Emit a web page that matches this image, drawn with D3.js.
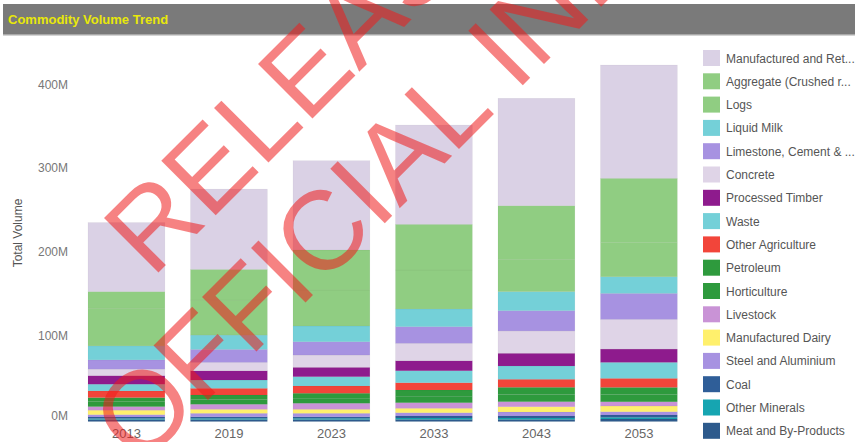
<!DOCTYPE html>
<html>
<head>
<meta charset="utf-8">
<script src="https://cdn.jsdelivr.net/npm/d3@7"></script>
<style>
  html, body { margin: 0; padding: 0; background: #fff; overflow: hidden; }
  svg { display: block; font-family: "Liberation Sans", Arial, sans-serif; }
</style>
</head>
<body>
<svg id="chart" width="855" height="442"></svg>
<script>
// Forecast years shown on the x axis
const years = ["2013", "2019", "2023", "2033", "2043", "2053"];

// Commodity names in legend order (top of stack first)
const commodities = [
  "Manufactured and Ret...",
  "Aggregate (Crushed r...",
  "Logs",
  "Liquid Milk",
  "Limestone, Cement & ...",
  "Concrete",
  "Processed Timber",
  "Waste",
  "Other Agriculture",
  "Petroleum",
  "Horticulture",
  "Livestock",
  "Manufactured Dairy",
  "Steel and Aluminium",
  "Coal",
  "Other Minerals",
  "Meat and By-Products"
];

// Volumes per commodity, millions, one value per year
const manufacturedRetail = [82.5, 96.0, 106.8, 118.7, 128.4, 135.5];
const aggregate          = [19.9, 36.7, 47.8, 54.6, 64.1, 77.0];
const logs               = [45.1, 41.9, 43.1, 46.6, 38.7, 40.7];
const liquidMilk         = [16.7, 17.1, 18.8, 21.2, 22.7, 19.9];
const limestone          = [11.1, 15.5, 15.9, 19.9, 24.3, 31.1];
const concrete           = [7.7, 10.0, 14.7, 20.8, 26.7, 35.5];
const processedTimber    = [10.3, 11.1, 11.2, 12.0, 15.2, 15.9];
const waste              = [8.0, 9.9, 11.1, 14.3, 15.9, 19.1];
const otherAgriculture   = [8.0, 8.0, 8.7, 8.7, 9.6, 10.8];
const petroleum          = [4.8, 5.4, 6.0, 7.5, 8.6, 8.6];
const horticulture       = [6.0, 5.7, 6.0, 7.7, 8.6, 8.6];
const livestock          = [4.3, 6.0, 7.2, 6.7, 6.0, 5.1];
const manufacturedDairy  = [5.3, 4.8, 4.8, 5.3, 6.3, 6.8];
const steelAluminium     = [2.8, 4.1, 4.1, 3.9, 4.8, 3.9];
const coal               = [1.8, 1.9, 1.9, 2.4, 2.4, 2.8];
const otherMinerals      = [1.2, 1.4, 1.4, 1.7, 1.7, 2.0];
const meat               = [2.4, 2.4, 2.4, 2.5, 2.5, 3.0];

const seriesValues = [
  manufacturedRetail, aggregate, logs, liquidMilk, limestone, concrete,
  processedTimber, waste, otherAgriculture, petroleum, horticulture,
  livestock, manufacturedDairy, steelAluminium, coal, otherMinerals, meat
];

const palette = [
  "#dad1e5", "#90cd82", "#90cd82", "#74d0d8", "#a792e1", "#dfd4e7",
  "#8e1b8d", "#74d0d8", "#f2453a", "#2e9a3d", "#2e9a3d", "#c993d6",
  "#fff06c", "#a792e1", "#2f5e98", "#16a5b1", "#2d5a8c"
];

const yTicks = [0, 100, 200, 300, 400];

// One row per year for d3.stack
const rows = years.map((yr, i) => {
  const r = { year: yr };
  commodities.forEach((c, j) => { r[c] = seriesValues[j][i]; });
  return r;
});

// Stack from the bottom of the legend upward
const stackKeys = commodities.slice().reverse();
const stacked = d3.stack().keys(stackKeys)(rows);

const svg = d3.select("#chart");

const color = d3.scaleOrdinal().domain(commodities).range(palette);

const x = d3.scaleBand().domain(years).range([57.25, 708.1]).paddingInner(0.25).paddingOuter(0.3);
const y = d3.scaleLinear().domain([0, 400]).range([421.5, 87]);

// Header strip
svg.append("rect").attr("x", 3).attr("y", 4).attr("width", 852).attr("height", 31).attr("fill", "#7a7a7a");
svg.append("rect").attr("x", 3).attr("y", 34).attr("width", 852).attr("height", 1.5).attr("fill", "#a9a9a9");
svg.append("text")
  .attr("x", 8).attr("y", 24)
  .attr("font-size", 13).attr("font-weight", "bold")
  .attr("fill", "#e8e80a")
  .text("Commodity Volume Trend");

// Y axis
const yAxis = svg.append("g")
  .attr("transform", "translate(68,0)")
  .call(d3.axisLeft(y).tickValues(yTicks).tickFormat(d => d + "M").tickSize(0).tickPadding(0));
yAxis.select(".domain").remove();
yAxis.selectAll("text").attr("fill", "#777").attr("font-size", 12)
  .attr("font-family", "Liberation Sans, Arial, sans-serif")
  .attr("dy", d => d === 0 ? "-0.2em" : "0.1em");

svg.append("text")
  .attr("transform", "translate(22," + 233 + ") rotate(-90)")
  .attr("text-anchor", "middle")
  .attr("font-size", 12).attr("fill", "#555")
  .text("Total Volume");

// Stacked bars
svg.append("g").selectAll("g")
  .data(stacked)
  .join("g")
  .attr("fill", d => color(d.key))
  .selectAll("rect")
  .data(d => d)
  .join("rect")
  .attr("x", d => x(d.data.year))
  .attr("width", x.bandwidth())
  .attr("y", d => y(d[1]))
  .attr("height", d => y(d[0]) - y(d[1]))
  .attr("stroke", "rgba(0,0,0,0.05)")
  .attr("stroke-width", 0.6);

// X axis
const xAxis = svg.append("g")
  .attr("transform", "translate(0,421.5)")
  .call(d3.axisBottom(x).tickSize(0).tickPadding(7));
xAxis.select(".domain").remove();
xAxis.selectAll("text").attr("fill", "#666").attr("font-size", 13)
  .attr("font-family", "Liberation Sans, Arial, sans-serif");

// Legend
const legend = svg.append("g").attr("transform", "translate(703,58)");
const item = legend.selectAll("g")
  .data(commodities)
  .join("g")
  .attr("transform", (d, i) => "translate(0," + (i * 23.3) + ")");
item.append("rect")
  .attr("x", 0).attr("y", -8).attr("width", 17).attr("height", 16)
  .attr("fill", d => color(d));
item.append("text")
  .attr("x", 23).attr("y", 4.5)
  .attr("font-size", 12).attr("fill", "#555")
  .text(d => d);

// Release stamp across the plot
const stamp = svg.append("g")
  .attr("fill", "#ee1c1c").attr("fill-opacity", 0.55)
  .attr("font-size", 112)
  .attr("font-family", "Liberation Sans, Arial, sans-serif");
stamp.append("text")
  .attr("transform", "translate(152,279) rotate(-45)")
  .text("RELEASED UNDER THE");
stamp.append("text")
  .attr("transform", "translate(140,468) rotate(-45)")
  .text("OFFICIAL INFORMATION ACT");
</script>
</body>
</html>
